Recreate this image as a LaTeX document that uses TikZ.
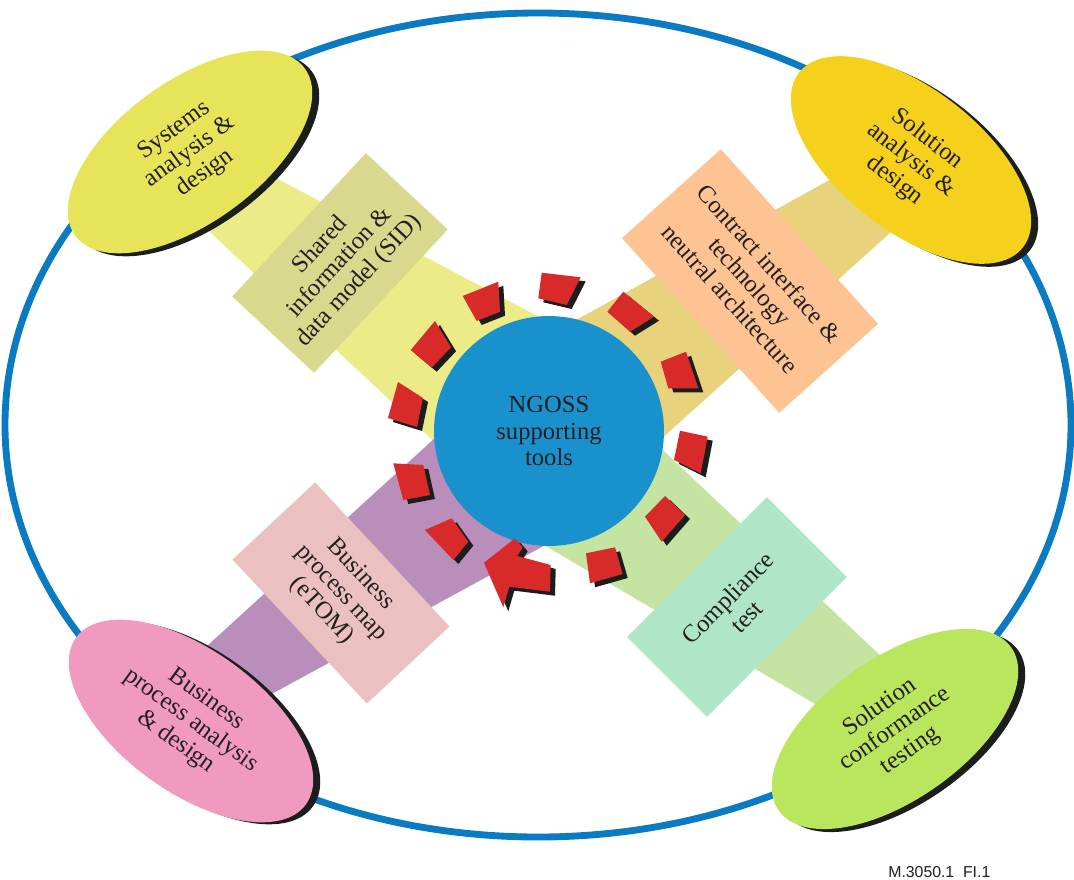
\documentclass[tikz,border=0pt]{standalone}
\usepackage{fontspec}
\setmainfont{Liberation Serif}
\newfontfamily\figidfont{Liberation Sans}
\usetikzlibrary{shapes.geometric}
\definecolor{ringblue}{RGB}{10,123,194}
\definecolor{hubblue}{RGB}{24,145,204}
\definecolor{sysyellow}{RGB}{232,228,90}
\definecolor{solgold}{RGB}{245,209,27}
\definecolor{bizpink}{RGB}{241,154,191}
\definecolor{confgreen}{RGB}{186,230,94}
\definecolor{bandyellow}{RGB}{235,235,136}
\definecolor{bandtan}{RGB}{233,210,124}
\definecolor{bandpurple}{RGB}{186,142,187}
\definecolor{bandgreen}{RGB}{197,227,161}
\definecolor{cardolive}{RGB}{216,217,140}
\definecolor{cardorange}{RGB}{253,195,146}
\definecolor{cardpink}{RGB}{235,192,192}
\definecolor{cardmint}{RGB}{176,230,200}
\definecolor{dashred}{RGB}{217,42,42}
\definecolor{shadowblack}{RGB}{28,30,30}
\definecolor{txtc}{RGB}{35,31,32}
\newcommand\ringdash[1]{\fill[dashshade] #1 -- cycle; \fill[dashfill] #1 -- cycle;}
\begin{document}
\begin{tikzpicture}[x=0.02cm,y=-0.02cm,
  lbl/.style={font=\fontsize{14}{15}\selectfont, text=txtc, align=center},
  oval/.style={ellipse, lbl, inner sep=0pt, minimum width=5.68cm, minimum height=2.84cm},
  ovalshadow/.style={ellipse, inner sep=0pt, minimum width=5.68cm, minimum height=2.84cm, fill=shadowblack},
  card/.style={rectangle, lbl, inner sep=0pt},
  dashfill/.style={fill=dashred},
  dashshade/.style={fill=shadowblack, shift={(5,4)}},
  ring/.style={draw=ringblue, line width=3.9pt}]
\fill[white] (0,0) rectangle (1074,879);
\useasboundingbox (0,0) rectangle (1074,879);

% outer ring
\draw[ring] (538,425) ellipse [x radius=533, y radius=412];

% bands
\fill[bandyellow] (200,138) -- (560,328) -- (470,475) -- (150,176) -- cycle;
\fill[bandtan] (540,340) -- (900,141) -- (950,179) -- (620,476) -- cycle;
\fill[bandpurple] (150,698) -- (470,406) -- (560,537) -- (200,733) -- cycle;
\fill[bandgreen] (630,419) -- (940,712) -- (880,742) -- (520,531) -- cycle;

% cards
\node[card, fill=cardolive, minimum width=3.92cm, minimum height=2.24cm, rotate=47] (sid) at (340,263) {Shared\\information \&\\data model (SID)};
\node[card, fill=cardorange, minimum width=4.7cm, minimum height=2.66cm, rotate=-48] (cit) at (750,281) {Contract interface \&\\technology\\neutral architecture};
\node[card, fill=cardpink, minimum width=3.94cm, minimum height=2.26cm, rotate=-47] (bpm) at (341,593) {Business\\process map\\(eTOM)};
\node[card, fill=cardmint, minimum width=3.96cm, minimum height=2.26cm, rotate=45] (ct) at (737,607) {Compliance\\test};

% ellipses with shadows
\node[ovalshadow, rotate=36] (sysS) at (197,155) {};
\node[oval, fill=sysyellow, rotate=36] (sys) at (190,152) {Systems\\analysis \&\\design};
\node[ovalshadow, rotate=-38] (solS) at (918,163) {};
\node[oval, fill=solgold, rotate=-38] (sol) at (911,160) {Solution\\analysis \&\\design};
\node[ovalshadow, rotate=-36] (bizS) at (198,723) {};
\node[oval, fill=bizpink, rotate=-36] (biz) at (191,721) {Business\\process analysis\\\& design};
\node[ovalshadow, rotate=35] (confS) at (902,732) {};
\node[oval, fill=confgreen, rotate=35] (conf) at (895,729) {Solution\\conformance\\testing};

% hub
\node[circle, lbl, fill=hubblue, minimum size=4.6cm, inner sep=0pt] (hub) at (549,431) {NGOSS\\supporting\\tools};

% dashed circular arrow
\ringdash{(462.7,296) -- (498.3,281.7) -- (500,311.7) -- (476.7,321)}
\ringdash{(541.7,272.7) -- (580.7,277.3) -- (566.7,305) -- (538.3,298.3)}
\ringdash{(607.3,311.7) -- (623.3,291.7) -- (654,316.7) -- (630,331.7)}
\ringdash{(660.7,361.7) -- (686,351.7) -- (698.3,388.3) -- (668.3,388.3)}
\ringdash{(680,430.7) -- (707.7,436.7) -- (700.7,473.3) -- (674,460)}
\ringdash{(645,516.7) -- (665,496) -- (685,515) -- (661.7,541.7)}
\ringdash{(586,553.3) -- (615,547.3) -- (622.7,574) -- (590,583.3)}
\ringdash{(484,562.7) -- (515,538.3) -- (522.7,547.3) -- (517.3,556) -- (550.7,565) -- (550,591.7) -- (509.3,586.7) -- (503.3,607.3)}
\ringdash{(425,530) -- (451.7,518.3) -- (468.3,541.7) -- (453.3,560)}
\ringdash{(393.3,463.3) -- (423.3,465) -- (430,495) -- (403.3,500)}
\ringdash{(398,382) -- (423,398) -- (417,427) -- (388,418)}
\ringdash{(410.7,350) -- (435,321) -- (451,347.3) -- (431.7,367.7)}

% figure id
\node[font=\figidfont\fontsize{9}{10}\selectfont, text=txtc, anchor=west, inner sep=0pt] (figid) at (888,872) {M.3050.1\ \ FI.1};
\end{tikzpicture}
\end{document}
